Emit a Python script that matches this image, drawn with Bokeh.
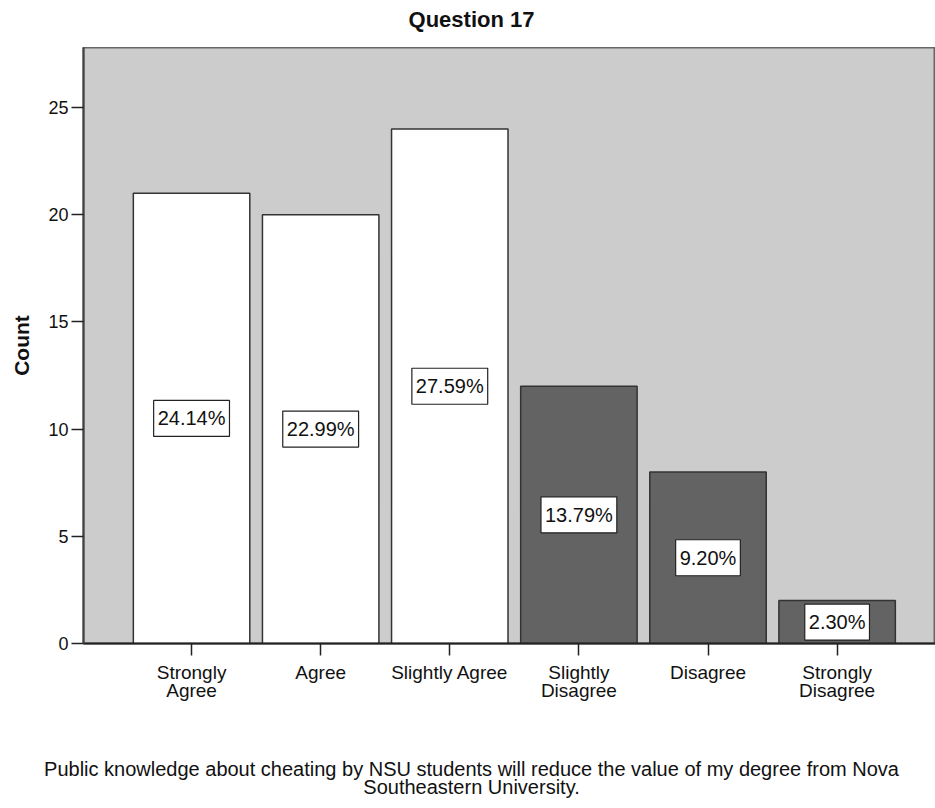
from bokeh.plotting import figure
from bokeh.models import Label, FixedTicker, Range1d, ColumnDataSource
from bokeh.layouts import column, row
from bokeh.embed import file_html
from bokeh.resources import INLINE

# ---- data ----
categories = ["Strongly Agree", "Agree", "Slightly Agree",
              "Slightly Disagree", "Disagree", "Strongly Disagree"]
tick_labels = ["Strongly\nAgree", "Agree", "Slightly Agree",
               "Slightly\nDisagree", "Disagree", "Strongly\nDisagree"]
counts = [21, 20, 24, 12, 8, 2]
percent_labels = ["24.14%", "22.99%", "27.59%", "13.79%", "9.20%", "2.30%"]
bar_colors = ["#ffffff", "#ffffff", "#ffffff", "#636363", "#636363", "#636363"]
y_ticks = [0, 5, 10, 15, 20, 25]
title_text = "Question 17"
y_label = "Count"
footer_lines = ["Public knowledge about cheating by NSU students will reduce the value of my degree from Nova",
                "Southeastern University."]

FONT = "Liberation Sans"
W = 935
LEFT = 83
xs = list(range(len(categories)))


def text_strip(height):
    # frame spans the whole strip so that data x equals page pixel x
    f = figure(width=W, height=height, x_range=Range1d(0, W), y_range=Range1d(0, height),
               output_backend="svg", toolbar_location=None,
               x_axis_location=None, y_axis_location=None,
               min_border=0, min_border_left=0, min_border_right=0,
               min_border_top=0, min_border_bottom=0)
    f.outline_line_color = None
    f.grid.visible = False
    f.background_fill_color = "white"
    f.border_fill_color = "white"
    return f


CENTER_X = 471

# ---- title strip ----
top = text_strip(47)
top.add_layout(Label(x=CENTER_X, y=28, text=title_text, text_align="center",
                     text_baseline="middle", text_font=FONT, text_font_size="22px",
                     text_font_style="bold", text_color="#111111"))

# ---- main chart ----
p = figure(width=W, height=666,
           x_range=Range1d(-0.837, 5.762), y_range=Range1d(0, 27.8),
           output_backend="svg", toolbar_location=None,
           min_border_left=LEFT, min_border_right=0,
           min_border_top=0, min_border_bottom=70)

p.background_fill_color = "#cccccc"
p.border_fill_color = "white"
p.outline_line_color = "#666666"
p.outline_line_width = 2
p.grid.visible = False

src = ColumnDataSource(dict(x=xs, top=counts, color=bar_colors, cat=categories))
p.vbar(x="x", top="top", width=0.902, source=src, fill_color="color",
       line_color="#333333", line_width=1.5)

for xi, c, txt in zip(xs, counts, percent_labels):
    p.add_layout(Label(x=xi, y=c / 2, text=txt, text_align="center",
                       text_baseline="middle", text_font=FONT,
                       text_font_size="20px", text_color="#111111",
                       background_fill_color="white",
                       border_line_color="#222222", border_line_width=1.2,
                       padding=dict(left=4, right=4, top=7, bottom=7)))

p.xaxis.ticker = FixedTicker(ticks=xs)
p.xaxis.major_label_overrides = {i: t for i, t in zip(xs, tick_labels)}
p.xaxis.major_label_text_font = FONT
p.xaxis.major_label_text_font_size = "19px"
p.xaxis.major_label_text_line_height = 0.9
p.xaxis.major_label_text_color = "#111111"
p.xaxis.major_tick_out = 12
p.xaxis.major_tick_in = 0
p.xaxis.minor_tick_line_color = None
p.xaxis.major_label_standoff = 6
p.xaxis.axis_line_color = "#222222"
p.xaxis.axis_line_width = 2
p.xaxis.major_tick_line_color = "#222222"
p.xaxis.major_tick_line_width = 1.5

p.yaxis.ticker = FixedTicker(ticks=y_ticks)
p.yaxis.major_label_text_font = FONT
p.yaxis.major_label_text_font_size = "18px"
p.yaxis.major_label_text_color = "#111111"
p.yaxis.major_tick_out = 12
p.yaxis.major_tick_in = 0
p.yaxis.minor_tick_line_color = None
p.yaxis.major_label_standoff = 3
p.yaxis.axis_line_color = "#444444"
p.yaxis.axis_line_width = 2
p.yaxis.major_tick_line_color = "#222222"
p.yaxis.major_tick_line_width = 1.5
p.yaxis.axis_label = y_label
p.yaxis.axis_label_text_font = FONT
p.yaxis.axis_label_text_font_style = "bold"
p.yaxis.axis_label_text_font_size = "21px"
p.yaxis.axis_label_text_color = "#111111"
p.yaxis.axis_label_standoff = 12

# ---- footer strip ----
FH = 93
FOOT_TOP = 713  # page y of the footer strip's top edge
bottom = text_strip(FH)
bottom.add_layout(Label(x=CENTER_X, y=FH - (768 - FOOT_TOP), text=footer_lines[0], text_align="center",
                        text_baseline="middle", text_font=FONT, text_font_size="20px",
                        text_color="#111111"))
bottom.add_layout(Label(x=CENTER_X, y=FH - (786 - FOOT_TOP), text=footer_lines[1], text_align="center",
                        text_baseline="middle", text_font=FONT, text_font_size="20px",
                        text_color="#111111"))

layout = column(row(top), row(p), row(bottom), spacing=0)
open("out.html", "w").write(file_html(layout, INLINE))
